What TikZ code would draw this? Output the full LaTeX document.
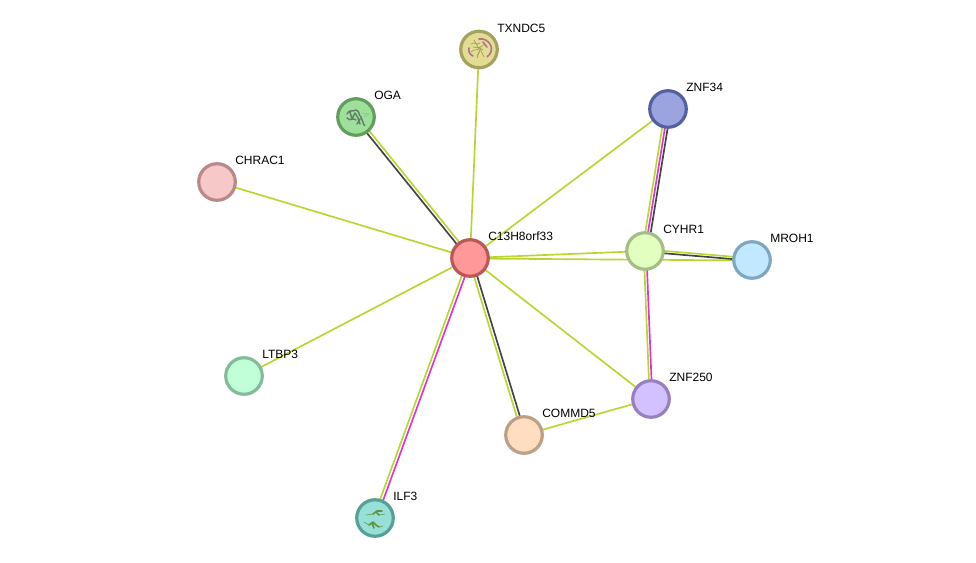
\documentclass[tikz,border=0pt]{standalone}
\usepackage{fontspec}
\setmainfont{Liberation Sans}
\usetikzlibrary{backgrounds}
\definecolor{lnkyellow}{HTML}{B8D62E}
\definecolor{lnkmagenta}{HTML}{DD33DD}
\definecolor{lnkdark}{HTML}{444444}
\definecolor{glyphpink}{HTML}{B0708A}
\definecolor{glyphtan}{HTML}{A89A5A}
\definecolor{glyphgrey}{HTML}{5F7D66}
\definecolor{glyphgreen}{HTML}{5E9440}
\tikzset{
  protein/.style={circle,draw,line width=2.4pt,minimum size=27.4pt,inner sep=0pt,outer sep=0pt},
  tag/.style={anchor=west,inner sep=0pt,font=\fontsize{9}{10}\selectfont},
  link/.style={line width=1.25pt,shorten <=-2pt,shorten >=-2pt},
  glyph/.style={line width=0.4pt,line cap=round,line join=round}
}
\begin{document}
\begin{tikzpicture}[x=0.75pt,y=-0.75pt]
        \useasboundingbox (0,0) rectangle (976,563);
        \foreach \name/\x/\y/\fillc/\linec in {%
          hub/470/258/FF9999/BC5757,
          txndc/479/49.5/E3DD94/A5A15F,
          oga/356/117/9EE09A/5F9F5B,
          chrac/217/182/F7C8C8/B98888,
          ltbp/244/376/C0FFD8/84BC9B,
          ilf/375/518/97E0D8/57A098,
          commd/524/435/FFDDC0/BC9F84,
          zfive/651/399/D3C0FF/9880C0,
          cyhr/645/251/E3FFC0/A3BF84,
          mroh/752/260/C2E8FF/7FA7BF,
          zthree/668/109/9CA4E0/5560A0} {
          \definecolor{nodefill}{HTML}{\fillc}
          \definecolor{nodeline}{HTML}{\linec}
          \node[protein,fill=nodefill,draw=nodeline] (\name) at (\x,\y) {};
        }
        \foreach \name/\x/\y/\txt in {%
          hub/488/236/C13H8orf33,
          txndc/497/28/TXNDC5,
          oga/374/95/OGA,
          chrac/235/160/CHRAC1,
          ltbp/262/354/LTBP3,
          ilf/393/496/ILF3,
          commd/542/413/COMMD5,
          zfive/669/377/ZNF250,
          cyhr/663/229/CYHR1,
          mroh/770/238/MROH1,
          zthree/686/87/ZNF34} {
          \node[tag] (\name-tag) at (\x,\y) {\txt};
        }
        \begin{scope}[on background layer]
          \foreach \a/\b/\col/\dx/\dy in {%
            hub/txndc/lnkyellow/0/0,
            hub/chrac/lnkyellow/0/0,
            hub/ltbp/lnkyellow/0/0,
            hub/zthree/lnkyellow/0/0,
            hub/zfive/lnkyellow/0/0,
            hub/cyhr/lnkyellow/0/0,
            hub/mroh/lnkyellow/0/0.5,
            commd/zfive/lnkyellow/0/0,
            hub/oga/lnkyellow/1.2/-1,
            hub/oga/lnkdark/-1.2/1,
            hub/ilf/lnkyellow/-1.5/-0.5,
            hub/ilf/lnkmagenta/1.5/0.5,
            hub/commd/lnkyellow/-1.5/0.4,
            hub/commd/lnkdark/1.5/-0.4,
            zthree/cyhr/lnkyellow/-2.7/-0.4,
            zthree/cyhr/lnkmagenta/0/0,
            zthree/cyhr/lnkdark/2.7/0.4,
            cyhr/zfive/lnkyellow/-1.3/0,
            cyhr/zfive/lnkmagenta/1.3/0,
            cyhr/mroh/lnkyellow/0/-1.7,
            cyhr/mroh/lnkdark/0/0.7} {
            \draw[link,draw=\col,transform canvas={shift={(\dx,\dy)}}] (\a) -- (\b);
          }
        \end{scope}
        % structure pictures inside three of the circles
        \draw[glyph,glyphtan,line width=0.5pt] (471,44) .. controls (475,41) and (476,46) .. (480,43)
          (471,52) .. controls (474,48) and (478,52) .. (480,47)
          (477,58) -- (480,49) -- (484,57)
          (474,40) -- (478,47) -- (483,50)
          (473,47) -- (479,48) -- (485,44)
          (480,52) -- (477,55);
        \draw[glyph,glyphpink,line width=1.2pt,dash pattern=on 1.6pt off 0.5pt] (479,39) .. controls (484,38) and (489,41) .. (491,46)
          .. controls (492,50) and (491,54) .. (487,57)
          (483,42) -- (487,47)
          (469,48) .. controls (468,51) and (470,55) .. (473,56);
        \draw[glyph,glyphgrey,line width=1.1pt,dash pattern=on 1.2pt off 0.5pt] (347,114) .. controls (349,109) and (353,112) .. (356,110)
          .. controls (360,111) and (358,115) .. (361,117)
          .. controls (363,120) and (362,123) .. (365,126)
          (347,118) .. controls (350,122) and (353,117) .. (356,120)
          (350,112) -- (352,119) -- (355,113) -- (358,118) -- (360,124)
          (357,124) -- (360,119);
        \draw[glyph,glyphgrey!50!green!50!lightgray,line width=0.3pt] (362,113) -- (369,114) -- (364,117);
        \draw[glyph,glyphgreen,line width=1.2pt] (373,514) -- (377,511) -- (382,511)
          (376,512) -- (379,515)
          (369,525) -- (373,522) -- (376,525) -- (379,527)
          (372,523) -- (374,528);
        \draw[glyph,glyphgreen,line width=0.4pt] (366,515) -- (373,514) (379,515) -- (385,514)
          (364,522) -- (369,525) (379,527) -- (383,526);
      \end{tikzpicture}
\end{document}
